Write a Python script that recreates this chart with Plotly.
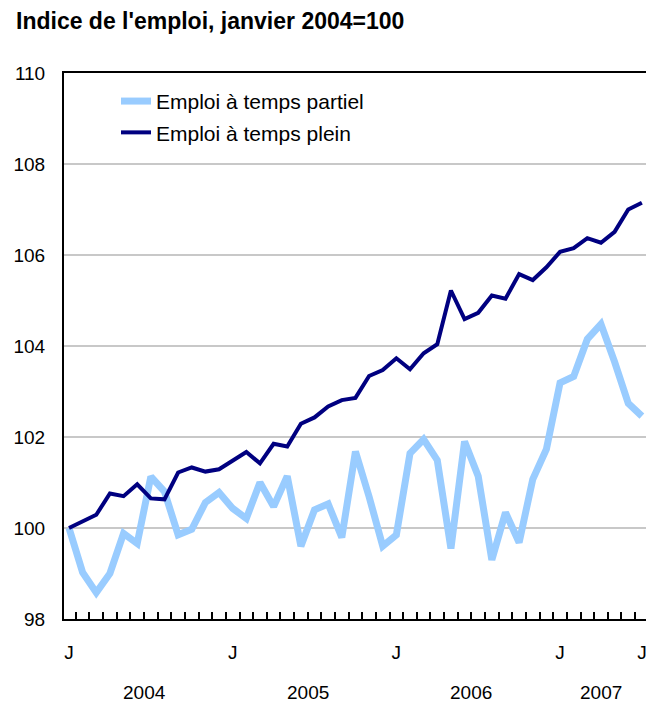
import plotly.graph_objects as go

title_text = "Indice de l'emploi, janvier 2004=100"
series_names = ["Emploi à temps partiel", "Emploi à temps plein"]

# Monthly index, January 2004 to July 2007 (43 months)
months = list(range(43))

part_time = [
    100.0, 99.02, 98.58, 99.00, 99.88, 99.66, 101.13, 100.80, 99.85, 99.97, 100.56, 100.78,
    100.43, 100.21, 101.00, 100.47, 101.14, 99.60, 100.40, 100.53, 99.79, 101.68, 100.69, 99.60,
    99.85, 101.64, 101.95, 101.49, 99.55, 101.90, 101.14, 99.30, 100.34, 99.68, 101.07, 101.73,
    103.19, 103.33, 104.15, 104.48, 103.65, 102.74, 102.46,
]
full_time = [
    100.0, 100.14, 100.29, 100.76, 100.70, 100.96, 100.65, 100.63, 101.22, 101.33, 101.24, 101.29,
    101.49, 101.67, 101.42, 101.85, 101.79, 102.29, 102.43, 102.67, 102.81, 102.86, 103.34, 103.47,
    103.73, 103.49, 103.84, 104.04, 105.22, 104.59, 104.73, 105.11, 105.04, 105.58, 105.45, 105.73,
    106.07, 106.15, 106.37, 106.27, 106.51, 107.00, 107.15,
]

month_tick_vals = [0, 12, 24, 36, 42]
month_tick_text = ["J", "J", "J", "J", "J"]
year_labels = ["2004", "2005", "2006", "2007"]
year_centers = [5.5, 17.5, 29.5, 39]
y_ticks = [98, 100, 102, 104, 106, 108, 110]

FONT = "Liberation Sans, Arial, Helvetica, sans-serif"

fig = go.Figure()
fig.add_trace(go.Scatter(x=months, y=part_time, mode="lines", name=series_names[0],
                         legendgroup="a", line=dict(color="#99ccff", width=7)))
fig.add_trace(go.Scatter(x=months, y=full_time, mode="lines", name=series_names[1],
                         legendgroup="b", line=dict(color="#000080", width=4)))

for lbl, c in zip(year_labels, year_centers):
    fig.add_annotation(x=c, y=-0.134, xref="x", yref="paper", text=lbl, showarrow=False,
                       font=dict(family=FONT, size=19, color="black"), yanchor="middle")

fig.update_layout(
    width=646, height=702,
    margin=dict(l=64, r=0, t=73, b=83, autoexpand=False),
    paper_bgcolor="white", plot_bgcolor="white",
    font=dict(family=FONT, size=19, color="black"),
    title=dict(text="<b>" + title_text + "</b>", x=16 / 646, xanchor="left",
               y=1 - 21 / 702, yanchor="middle", xref="container", yref="container",
               font=dict(family=FONT, size=23, color="black")),
    showlegend=True,
    legend=dict(x=0.0893, y=0.9855, xanchor="left", yanchor="top", bgcolor="rgba(0,0,0,0)",
                font=dict(family=FONT, size=21), tracegroupgap=1, itemwidth=30),
    xaxis=dict(range=[(64 - 69) / 13.64, (646 - 69) / 13.64], tickmode="array",
               tickvals=month_tick_vals, ticktext=month_tick_text, ticks="",
               showgrid=False, zeroline=False, showline=True, linecolor="black", linewidth=2,
               mirror=True, ticklabelstandoff=15, automargin=False,
               ticklabeloverflow="allow",
               minor=dict(tickmode="linear", tick0=0.5, dtick=1, ticks="inside",
                          ticklen=7, tickcolor="black", tickwidth=1.5, showgrid=False)),
    yaxis=dict(range=[98, 110], tickmode="array", tickvals=y_ticks, ticks="",
               showgrid=True, gridcolor="#c8c8c8", gridwidth=2, zeroline=False,
               showline=True, linecolor="black", linewidth=2, ticklabelstandoff=13,
               automargin=False),
)

fig.write_html("out.html", config={"displayModeBar": False},
               post_script="document.body.style.margin='0';")
